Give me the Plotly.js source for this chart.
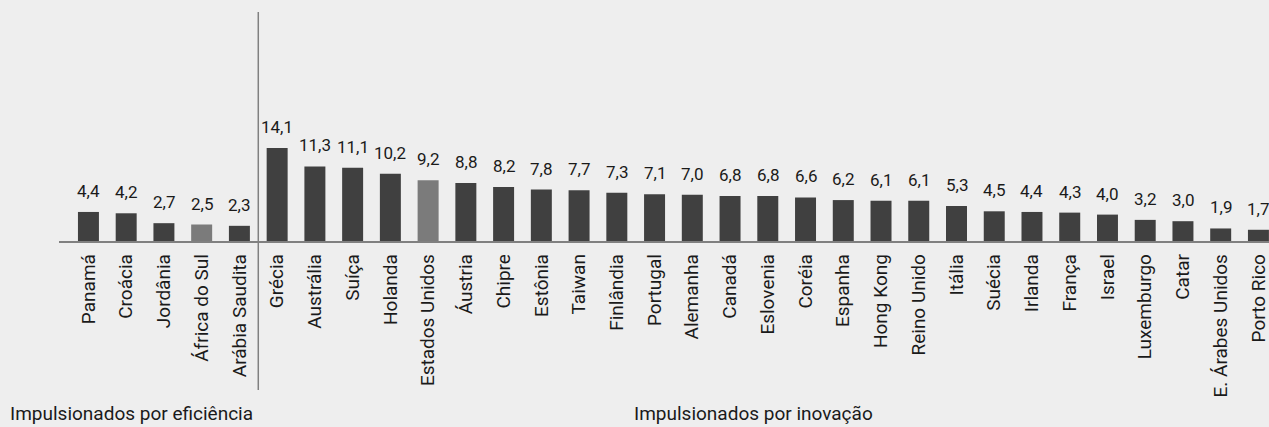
<!DOCTYPE html>
<html>
<head>
<meta charset="utf-8">
<script src="https://cdn.plot.ly/plotly-3.0.1.min.js"></script>
<style>
html,body{margin:0;padding:0;background:#eeeeee;}
#chart{width:1269px;height:427px;}
</style>
</head>
<body>
<div id="chart"></div>
<script>
const categories = ["Panamá","Croácia","Jordânia","África do Sul","Arábia Saudita","Grécia","Austrália","Suíça","Holanda","Estados Unidos","Áustria","Chipre","Estônia","Taiwan","Finlândia","Portugal","Alemanha","Canadá","Eslovenia","Coréia","Espanha","Hong Kong","Reino Unido","Itália","Suécia","Irlanda","França","Israel","Luxemburgo","Catar","E. Árabes Unidos","Porto Rico"];
const values = [4.4,4.2,2.7,2.5,2.3,14.1,11.3,11.1,10.2,9.2,8.8,8.2,7.8,7.7,7.3,7.1,7.0,6.8,6.8,6.6,6.2,6.1,6.1,5.3,4.5,4.4,4.3,4.0,3.2,3.0,1.9,1.7];
const highlighted = ["África do Sul","Estados Unidos"];
const groupLabels = ["Impulsionados por eficiência","Impulsionados por inovação"];
const groupSplitAfter = "Arábia Saudita";

const FONT = "Roboto, 'DejaVu Sans Condensed', sans-serif";
const dark = "#404040", light = "#7b7b7b";
const colors = categories.map(c => highlighted.includes(c) ? light : dark);
const xs = categories.map((c,i)=>i);
const splitX = categories.indexOf(groupSplitAfter) + 0.5;

const trace = {
  type: "bar",
  x: xs,
  y: values,
  marker: {color: colors, line: {width: 0}},
  width: 0.556,
  hoverinfo: "skip"
};

const annotations = xs.map((x,i)=>({
  x: x, y: values[i], xref: "x", yref: "y",
  text: values[i].toFixed(1).replace(".", ","),
  showarrow: false, yanchor: "bottom", xanchor: "center", yshift: 9,
  font: {family: FONT, size: 17, color: "#1a1a1a"}
}));
annotations.push({
  xref: "paper", yref: "paper", x: (8-59)/1210, y: (241-427)/229,
  xanchor: "left", yanchor: "bottom", text: groupLabels[0], showarrow: false,
  font: {family: FONT, size: 19, color: "#1a1a1a"}
});
annotations.push({
  xref: "paper", yref: "paper", x: (632-59)/1210, y: (241-427)/229,
  xanchor: "left", yanchor: "bottom", text: groupLabels[1], showarrow: false,
  font: {family: FONT, size: 19, color: "#1a1a1a"}
});

const layout = {
  width: 1269, height: 427,
  margin: {l: 59, r: 0, t: 12, b: 186, pad: 0},
  paper_bgcolor: "#eeeeee",
  plot_bgcolor: "#eeeeee",
  showlegend: false,
  xaxis: {
    range: [-0.78, 31.28],
    tickmode: "array", tickvals: xs, ticktext: categories,
    tickangle: -90, ticks: "", showgrid: false, zeroline: false,
    showline: true, linecolor: "#808080", linewidth: 1.5,
    ticklabelstandoff: 4, ticklabeloverflow: "allow",
    tickfont: {family: FONT, size: 19, color: "#1a1a1a"},
    fixedrange: true
  },
  yaxis: {
    range: [0, 34.7], visible: false, showgrid: false, zeroline: false, fixedrange: true
  },
  shapes: [{
    type: "line", xref: "x", yref: "paper",
    x0: splitX, x1: splitX, y0: -0.651, y1: 1,
    line: {color: "#808080", width: 1.5}
  }],
  annotations: annotations
};

Plotly.newPlot("chart", [trace], layout, {displayModeBar: false, staticPlot: true});
</script>
</body>
</html>
